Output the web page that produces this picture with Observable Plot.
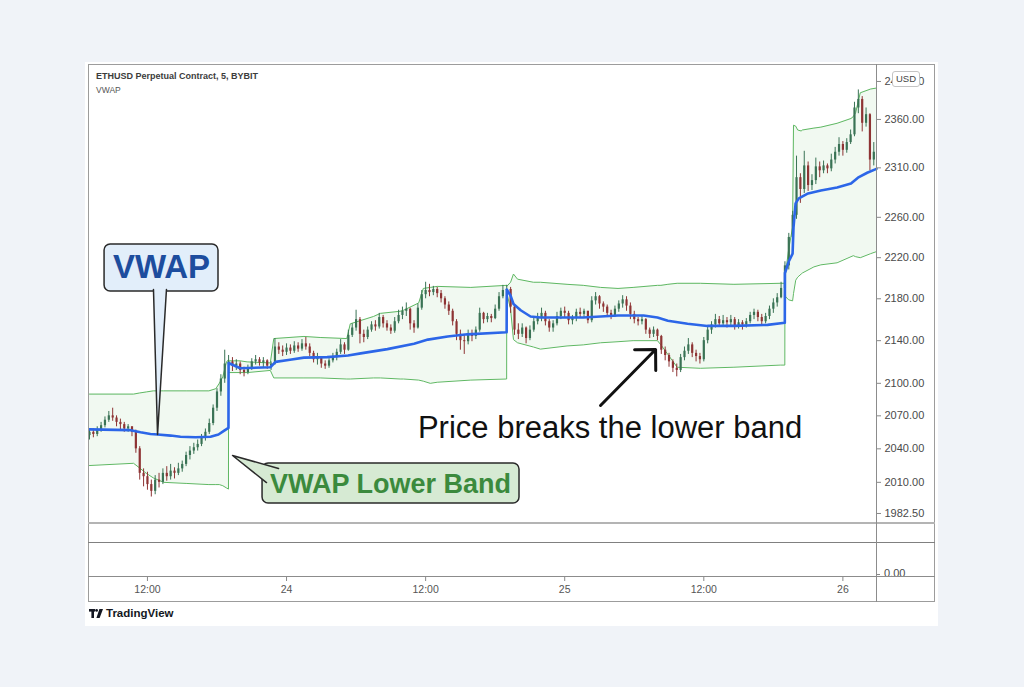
<!DOCTYPE html>
<html><head><meta charset="utf-8">
<script src="https://cdn.jsdelivr.net/npm/d3@7"></script>
<script src="https://cdn.jsdelivr.net/npm/@observablehq/plot@0.6"></script>
<style>
html,body{margin:0;padding:0;}
body{width:1024px;height:687px;overflow:hidden;background:#f0f3f8;position:relative;font-family:"Liberation Sans",Arial,sans-serif;}
.abs{position:absolute;}
#panel{left:85px;top:62px;width:853px;height:564px;background:#fff;}
#frame{left:88px;top:64px;width:847px;height:538px;border:1px solid #9c9c9c;box-sizing:border-box;}
.hline{left:88px;width:847px;}
#title{left:96px;top:71px;font-size:9px;font-weight:bold;color:#3c3c3c;white-space:nowrap;}
#sub{left:96px;top:85px;font-size:8.5px;color:#555;}
#usd{left:892px;top:71px;width:26px;height:14px;border:1px solid #c4c4c4;border-radius:3px;background:#fff;font-size:9.5px;color:#444;text-align:center;line-height:14px;}
#zero{left:877px;top:566px;width:57px;height:10px;line-height:15px;overflow:hidden;font-size:11px;color:#4a4a4a;white-space:nowrap;}
#logo{left:89px;top:607px;font-size:11.5px;font-weight:bold;color:#131722;display:flex;align-items:center;gap:3px;}
</style></head><body>
<div id="panel" class="abs"></div>
<div id="chart" class="abs" style="left:0;top:0"></div>
<div id="xaxis" class="abs" style="left:0;top:576px"></div>
<div id="frame" class="abs"></div>
<div class="abs hline" style="top:522px;height:2px;background:#b4b4b4"></div>
<div class="abs hline" style="top:542px;height:1px;background:#808080"></div>
<div class="abs hline" style="top:576px;height:1px;background:#8c8c8c"></div>
<div class="abs" style="left:876px;top:64px;width:1px;height:538px;background:#8c8c8c"></div>
<div id="title" class="abs">ETHUSD Perpetual Contract, 5, BYBIT</div>
<div id="sub" class="abs">VWAP</div>
<div id="usd" class="abs">USD</div>
<div id="zero" class="abs"><span style="display:inline-block;width:3px;height:1px;background:#888;vertical-align:middle;margin-right:4px"></span>0.00</div>
<div id="logo" class="abs"><svg width="14" height="9" viewBox="0 0 14 9"><rect x="0" y="0" width="6" height="2.6" fill="#131722"/><rect x="2.4" y="0" width="2.6" height="9" fill="#131722"/><circle cx="7.6" cy="1.4" r="1.4" fill="#131722"/><path d="M10.4 0 H14 L10.6 9 H7.4 Z" fill="#131722"/></svg><span>TradingView</span></div>
<script>
// ---- data (hours counted from 23rd 00:00, exchange display time) ----
const candleStartHour = 7;
const candleStepMinutes = 20;
const firstOpen = 2052;
const candleClose = [
2055,2053,2057,2061,2066,2070,2068,2064,2062,2058,2060,2055,2040,2018,2015,2008,2002,2012,2010,2018,2015,2020,2018,2022,2026,2034,2038,2041,2044,2050,2055,2063,2077,2092,2104,2118,
2120,2116,2118,2112,2110,2114,2120,2122,2119,2121,2116,2118,2134,2131,2129,2133,2130,2135,2132,2137,2134,2128,2122,2124,2118,2116,2121,2124,2129,2136,2131,2145,2152,2160,2146,2143,2150,2155,2153,2162,2156,2152,2149,2158,2164,2168,2170,2156,2152,2171,2184,2188,2186,2189,2185,2180,2174,2168,2158,2146,2140,2139,2146,2144,2150,2166,2160,2163,2161,2170,2182,2188,
2189,2172,2150,2146,2152,2142,2150,2158,2162,2166,2158,2152,2156,2163,2168,2166,2159,2161,2167,2165,2168,2159,2178,2182,2175,2172,2166,2164,2170,2175,2179,2173,2165,2160,2158,2160,2150,2146,2150,2144,2131,2126,2120,2114,2112,2124,2130,2136,2128,2125,2122,2140,2150,2155,2160,2156,2159,2157,2160,2154,2157,2155,2158,2164,2167,2162,2158,2163,2170,2176,2181,2190,
2212,2240,2262,2300,2288,2312,2292,2297,2311,2307,2312,2309,2318,2326,2334,2328,2336,2344,2372,2381,2356,2365,2318,2326];
const candleHigh = [
2058,2058,2060,2064,2069,2074,2077,2070,2067,2064,2062,2060,2057,2042,2022,2019,2012,2016,2018,2022,2024,2026,2023,2027,2029,2037,2042,2045,2048,2053,2058,2067,2080,2095,2108,2131,
2126,2124,2122,2120,2115,2117,2123,2126,2124,2124,2122,2120,2142,2138,2135,2137,2136,2139,2138,2141,2143,2137,2130,2128,2125,2121,2123,2128,2132,2141,2138,2150,2156,2169,2162,2150,2153,2158,2159,2166,2164,2159,2155,2162,2169,2172,2176,2171,2159,2175,2188,2196,2194,2192,2191,2188,2182,2177,2170,2160,2150,2145,2150,2150,2153,2171,2167,2166,2165,2174,2186,2193,
2193,2191,2174,2156,2156,2153,2154,2162,2166,2171,2168,2160,2159,2167,2171,2172,2168,2164,2170,2171,2170,2168,2182,2186,2183,2177,2174,2169,2173,2178,2183,2182,2176,2168,2162,2163,2161,2152,2153,2151,2145,2134,2128,2122,2118,2127,2134,2142,2138,2131,2128,2143,2153,2158,2165,2163,2164,2162,2164,2162,2160,2159,2161,2167,2170,2169,2165,2166,2173,2180,2185,2196,
2216,2244,2266,2322,2304,2327,2316,2303,2320,2316,2317,2314,2324,2331,2341,2337,2340,2349,2378,2391,2384,2372,2366,2336];
const candleLow = [
2048,2050,2051,2055,2059,2064,2065,2060,2057,2055,2055,2051,2036,2012,2006,2003,1997,1999,2005,2008,2011,2012,2013,2016,2019,2024,2030,2035,2038,2042,2047,2053,2061,2074,2088,2100,
2110,2111,2112,2108,2106,2108,2112,2117,2116,2114,2113,2112,2117,2127,2125,2126,2127,2128,2129,2130,2131,2125,2119,2117,2114,2113,2114,2119,2121,2127,2127,2130,2143,2149,2137,2138,2141,2148,2149,2151,2152,2149,2146,2147,2156,2160,2163,2150,2147,2151,2169,2180,2182,2183,2181,2176,2170,2164,2154,2140,2131,2127,2136,2139,2141,2148,2156,2157,2157,2160,2168,2180,
2184,2166,2145,2141,2143,2137,2140,2148,2155,2158,2154,2148,2148,2154,2160,2162,2155,2155,2158,2162,2161,2156,2157,2174,2170,2167,2162,2160,2162,2167,2171,2168,2160,2156,2154,2155,2146,2142,2143,2140,2127,2121,2115,2110,2106,2110,2121,2127,2124,2120,2118,2120,2137,2146,2152,2153,2154,2152,2154,2150,2151,2150,2152,2156,2160,2158,2155,2156,2160,2166,2172,2180,
2188,2208,2236,2258,2274,2284,2286,2287,2293,2300,2304,2304,2306,2314,2322,2322,2325,2334,2342,2366,2347,2352,2307,2312];

const vwapHours = [7.0,10.45,11.4,12.26,12.87,14.0,14.85,16.15,17.44,18.13,18.56,18.99,
 19.0,20.0,22.6,23.05,24.3,25.5,27.5,29.3,30.4,32.7,35.0,36.2,37.9,39.6,42.99,
 43.0,43.33,43.58,44.2,45.05,45.9,49.6,52.6,54.8,56.0,56.9,58.6,60.3,62.6,65.5,66.99,
 67.0,67.06,67.32,67.66,67.74,67.92,68.2,69.0,70.1,71.5,72.7,73.3,74.1,74.9];
const vwapValues = [2057.6,2057,2055,2053.5,2053,2052,2051,2050.5,2051,2053,2056,2059,
 2119,2114,2115,2120,2122,2124,2124.5,2126,2128,2132,2137,2141,2144,2146,2148,
 2189,2183,2175,2169,2163,2162,2162,2164,2164,2162,2159,2156,2154,2154,2155,2157,
 2205,2207,2216,2224,2250,2274,2279,2284,2287,2290,2294,2300,2305,2309];

const bandHours = [7.0,10.8,11.3,11.9,12.5,13.4,15.4,17.3,17.9,18.2,18.5,18.82,18.99,
 19.0,20.0,20.6,22.6,22.9,25.5,26.9,29.2,29.5,31.5,32.1,33.8,34.1,35.4,35.8,36.4,37.0,39.9,42.99,
 43.0,43.33,43.58,43.93,45.3,45.9,48.2,49.6,51.1,52.6,53.9,56.0,56.3,56.9,57.7,59.7,62.6,66.6,66.99,
 67.0,67.06,67.32,67.66,67.74,67.93,68.1,68.4,68.5,69.5,70.1,71.5,72.7,72.9,73.1,73.5,74.4,74.9];
const bandUpper = [2090,2090,2091,2092,2093,2093,2093,2093,2095,2100,2106,2120,2122,
 2121,2121,2120,2119,2142,2144,2143,2142,2156,2163,2166,2168,2169,2176,2190,2191,2192,2191,2193,
 2192,2196,2204,2199,2196,2196,2194,2193,2191,2190,2191,2193,2193,2194,2195,2195,2194,2195,2195,
 2200,2205,2228,2250,2354,2353,2349,2348,2349,2351,2352,2356,2361,2363,2367,2388,2392,2393];
const bandLower = [2025,2027,2023,2018,2014,2010,2009,2008,2008,2008,2007,2005,2004,
 2110,2110,2110,2112,2105,2105,2105,2104,2104,2105,2105,2104,2104,2103,2102,2100,2101,2103,2104,
 2186,2170,2141,2138,2134,2132,2135,2136,2138,2139,2140,2140,2136,2127,2115,2114,2115,2117,2117,
 2190,2182,2179,2178,2185,2198,2201,2204,2205,2211,2213,2215,2221,2222,2221,2220,2224,2226];

const priceTicks = [1982.5,2010,2040,2070,2100,2140,2180,2220,2260,2310,2360,2400];
const timeTickHours = [12,24,36,48,60,72];
const domainHours = [7.0, 74.9];
const priceDomain = [1974.6, 2417];

// annotation anchors (time in hours, price)
const vwapNote = {label:"VWAP", h1:8.3, h2:18.13, p1:2187, p2:2233, th:13.21, tp:2210};
const vwapPointer = [{h:12.52,p:2189},{h:12.87,p:2053},{h:13.64,p:2189}];
const bandNote = {label:"VWAP Lower Band", h1:21.93, h2:44.1, p1:1991.3, p2:2026.8, th:32.97, tp:2008.5};
const bandPointer = [{h:23.31,p:2022.3},{h:19.34,p:2034},{h:22.27,p:2009.8}];
const breakNote = {label:"Price breaks the lower band", h:51.91, p:2058.4};
const breakArrow = {h1:51.09, p1:2079.5, h2:55.84, p2:2131.6};

// ---- build ----
const base = Date.UTC(2022, 0, 23);
const toDate = h => new Date(base + h * 3600e3);

const candles = candleClose.map((c, i) => ({
  t: toDate(candleStartHour + i * candleStepMinutes / 60),
  open: i === 0 ? firstOpen : candleClose[i - 1],
  close: c, high: candleHigh[i], low: candleLow[i]
}));
const vwap = vwapHours.map((h, i) => ({t: toDate(h), v: vwapValues[i]}));
const bands = bandHours.map((h, i) => ({t: toDate(h), upper: bandUpper[i], lower: bandLower[i]}));
const xDomain = domainHours.map(toDate);
const upColor = "#3a7355", downColor = "#8e3434";
const cColor = d => d.close >= d.open ? upColor : downColor;
const FONT = "'Liberation Sans', Arial, sans-serif";
const pt = d => ({t: toDate(d.h), p: d.p});

const chart = Plot.plot({
  width: 1024, height: 687,
  marginLeft: 89, marginRight: 148, marginTop: 65, marginBottom: 165,
  x: {type: "utc", domain: xDomain, axis: null},
  y: {type: "log", domain: priceDomain},
  style: {background: "transparent", overflow: "visible", fontFamily: FONT},
  marks: [
    Plot.areaY(bands, {x: "t", y1: "lower", y2: "upper", fill: "#4caf50", fillOpacity: 0.08}),
    Plot.line(bands, {x: "t", y: "upper", stroke: "#5fb863", strokeWidth: 1}),
    Plot.line(bands, {x: "t", y: "lower", stroke: "#5fb863", strokeWidth: 1}),
    Plot.ruleX(candles, {x: "t", y1: "low", y2: "high", stroke: cColor, strokeWidth: 1}),
    Plot.ruleX(candles, {x: "t", y1: "open", y2: "close", stroke: cColor, strokeWidth: 2.2}),
    Plot.line(vwap, {x: "t", y: "v", stroke: "#2c66e8", strokeWidth: 2.6}),
    Plot.axisY(priceTicks, {anchor: "right", tickSize: 4, tickPadding: 4, fontSize: 11, color: "#4a4a4a", stroke: "#888", tickFormat: d => d.toFixed(2), label: null}),
    // VWAP callout
    Plot.rect([vwapNote], {x1: d => toDate(d.h1), x2: d => toDate(d.h2), y1: "p1", y2: "p2", fill: "#e2eefa", stroke: "#2a2a2a", strokeWidth: 1.5, rx: 6}),
    Plot.line(vwapPointer.map(pt), {x: "t", y: "p", fill: "#e2eefa", stroke: "#2a2a2a", strokeWidth: 1.5}),
    Plot.text([vwapNote], {x: d => toDate(d.th), y: "tp", text: "label", fill: "#1d4d9e", fontSize: 33, fontWeight: "bold", fontFamily: FONT}),
    // lower band callout
    Plot.rect([bandNote], {x1: d => toDate(d.h1), x2: d => toDate(d.h2), y1: "p1", y2: "p2", fill: "#d6ead3", stroke: "#2a2a2a", strokeWidth: 1.5, rx: 6}),
    Plot.line(bandPointer.map(pt), {x: "t", y: "p", fill: "#d6ead3", stroke: "#2a2a2a", strokeWidth: 1.5}),
    Plot.text([bandNote], {x: d => toDate(d.th), y: "tp", text: "label", fill: "#3b8a3d", fontSize: 27, fontWeight: "bold", fontFamily: FONT}),
    // break annotation
    Plot.text([breakNote], {x: d => toDate(d.h), y: "p", text: "label", fill: "#111", fontSize: 31, fontFamily: FONT}),
    Plot.arrow([breakArrow], {x1: d => toDate(d.h1), y1: "p1", x2: d => toDate(d.h2), y2: "p2", stroke: "#111", strokeWidth: 3, headLength: 10.5, headAngle: 90})
  ]
});
document.getElementById("chart").appendChild(chart);

const fmtTick = d => d.getUTCHours() === 0 ? d3.utcFormat("%-d")(d) : d3.utcFormat("%H:%M")(d);
const xaxis = Plot.plot({
  width: 1024, height: 27,
  marginLeft: 89, marginRight: 148, marginTop: 0, marginBottom: 26,
  x: {type: "utc", domain: xDomain},
  style: {background: "transparent", overflow: "visible", fontFamily: FONT},
  marks: [Plot.axisX(timeTickHours.map(toDate), {anchor: "bottom", tickSize: 4, tickPadding: 4, fontSize: 10.5, color: "#555", stroke: "#888", tickFormat: fmtTick, label: null})]
});
document.getElementById("xaxis").appendChild(xaxis);
</script>
</body></html>
